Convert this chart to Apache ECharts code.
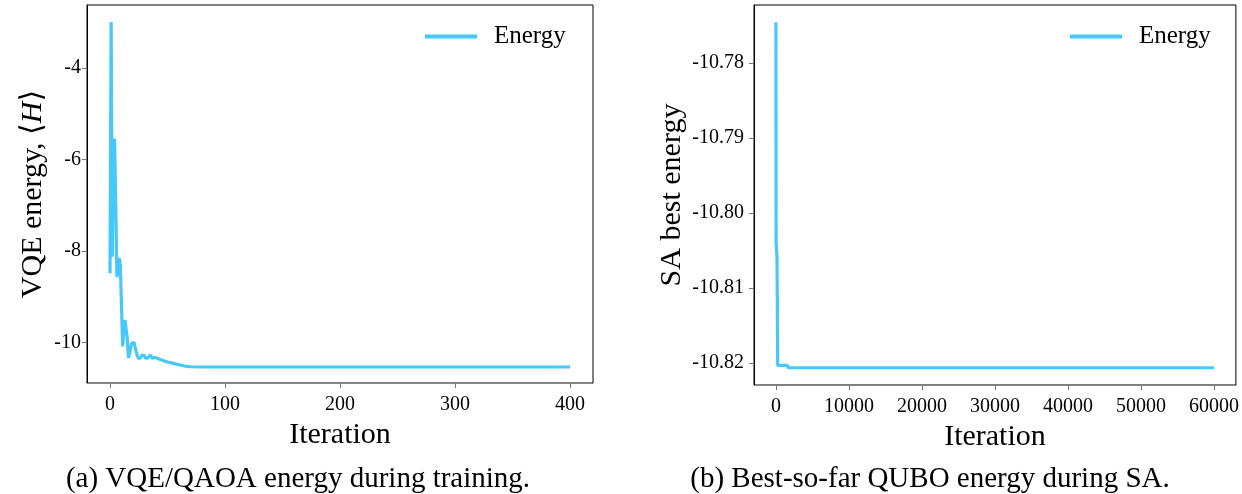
<!DOCTYPE html>
<html>
<head>
<meta charset="utf-8">
<script src="https://cdn.jsdelivr.net/npm/echarts@6/dist/echarts.min.js"></script>
<style>html,body{margin:0;padding:0;background:#fff}#c{width:1242px;height:494px}</style>
</head>
<body>
<div id="c"></div>
<script>
// VQE/QAOA energy per iteration (iteration, energy)
const vqeIter = [0,1,2,3,4,5,6,7,8,9,10,11,12,13,14,15,16,17,18,19,20,21,22,23,24,25,26,27,28,29,30,31,32,33,34,35,36,37,38,39,40,42,46,50,55,60,65,70,80,400];
const vqeEnergy = [-8.48,-2.99,-8.12,-5.6,-5.55,-7.0,-8.56,-8.5,-8.15,-8.3,-9.2,-10.08,-9.8,-9.5,-9.46,-9.9,-10.33,-10.25,-10.1,-10.0,-9.96,-10.0,-10.12,-10.22,-10.3,-10.35,-10.37,-10.32,-10.27,-10.24,-10.28,-10.34,-10.36,-10.33,-10.29,-10.27,-10.3,-10.34,-10.33,-10.32,-10.32,-10.35,-10.39,-10.42,-10.45,-10.48,-10.51,-10.525,-10.53,-10.53];
// SA best-so-far energy (iteration, energy)
const saIter = [0,30,120,150,220,250,1600,1650,60000];
const saBest = [-10.7746,-10.8039,-10.8039,-10.8059,-10.8059,-10.8203,-10.8203,-10.8206,-10.8206];
// tick labels
const vqeXTicks = [0,100,200,300,400];
const vqeYTicks = [-10,-8,-6,-4];
const saXTicks = [0,10000,20000,30000,40000,50000,60000];
const saYTicks = [-10.82,-10.81,-10.80,-10.79,-10.78];

const lineColor = '#46c8fa';
const font = '"Liberation Serif", "DejaVu Serif", serif';

const vqeData = vqeIter.map((x,i)=>[x,vqeEnergy[i]]);
const saData = saIter.map((x,i)=>[x,saBest[i]]);

function xAx(gi, min, max, ticks, name){
  return {
    type:'value', gridIndex:gi, min:min, max:max, position:'bottom',
    splitLine:{show:false},
    axisLine:{show:true, onZero:false, lineStyle:{color:'#888', width:1}},
    axisTick:{show:true, inside:false, length:5, lineStyle:{color:'#777'}, customValues:ticks},
    axisLabel:{show:true, margin:12, color:'#000', fontFamily:font, fontSize:20, customValues:ticks, formatter:v=>String(v)},
    name:name, nameLocation:'middle', nameGap:28,
    nameTextStyle:{fontFamily:font, fontSize:30, color:'#000'}
  };
}
function yAx(gi, min, max, ticks, fmt, name, gap, margin, rich){
  return {
    type:'value', gridIndex:gi, min:min, max:max, position:'left',
    splitLine:{show:false},
    axisLine:{show:true, onZero:false, lineStyle:{color:'#000', width:1}},
    axisTick:{show:true, inside:false, length:5, lineStyle:{color:'#777'}, customValues:ticks},
    axisLabel:{show:true, margin:margin, color:'#000', fontFamily:font, fontSize:20, customValues:ticks, formatter:fmt},
    name:name, nameLocation:'middle', nameGap:gap,
    nameTextStyle:Object.assign({fontFamily:font, fontSize:30, color:'#000'}, rich?{rich:rich}:{})
  };
}

const chart = echarts.init(document.getElementById('c'), null, {renderer:'canvas'});
chart.setOption({
  animation:false,
  backgroundColor:'#fff',
  title:[
    {text:'(a) VQE/QAOA energy during training.', left:293, top:460, textAlign:'center',
     textStyle:{fontFamily:font, fontSize:29, fontWeight:'normal', color:'#000'}},
    {text:'(b) Best-so-far QUBO energy during SA.', left:925, top:460, textAlign:'center',
     textStyle:{fontFamily:font, fontSize:29, fontWeight:'normal', color:'#000'}}
  ],
  grid:[
    {left:87, top:5, width:506, height:378, show:true, borderColor:'#000', borderWidth:1, backgroundColor:'transparent'},
    {left:754, top:5, width:482, height:380, show:true, borderColor:'#000', borderWidth:1, backgroundColor:'transparent'}
  ],
  legend:[
    {data:['Energy'], left:425, top:24, padding:0, icon:'rect', itemWidth:52, itemHeight:4, itemGap:18,
     textStyle:{fontFamily:font, fontSize:25, color:'#000', padding:[0,0,0,12]}},
    {data:['Energy'], left:1070, top:24, padding:0, icon:'rect', itemWidth:52, itemHeight:4, itemGap:18,
     textStyle:{fontFamily:font, fontSize:25, color:'#000', padding:[0,0,0,12]}}
  ],
  xAxis:[
    xAx(0, -20, 420, vqeXTicks, 'Iteration'),
    xAx(1, -3000, 63000, saXTicks, 'Iteration')
  ],
  yAxis:[
    yAx(0, -10.88, -2.62, vqeYTicks, v=>String(Math.round(v)), 'VQE energy, ⟨{i|H}⟩', 39, 6,
        {i:{fontFamily:font, fontSize:30, fontStyle:'italic', color:'#000'}}),
    yAx(1, -10.8229, -10.7723, saYTicks, v=>v.toFixed(2), 'SA best energy', 67, 10)
  ],
  series:[
    {name:'Energy', type:'line', xAxisIndex:0, yAxisIndex:0, data:vqeData, showSymbol:false, symbol:'none',
     lineStyle:{color:lineColor, width:3.2}, itemStyle:{color:lineColor}, clip:true},
    {name:'Energy', type:'line', xAxisIndex:1, yAxisIndex:1, data:saData, showSymbol:false, symbol:'none',
     lineStyle:{color:lineColor, width:3.2}, itemStyle:{color:lineColor}, clip:true}
  ]
});
</script>
</body>
</html>
